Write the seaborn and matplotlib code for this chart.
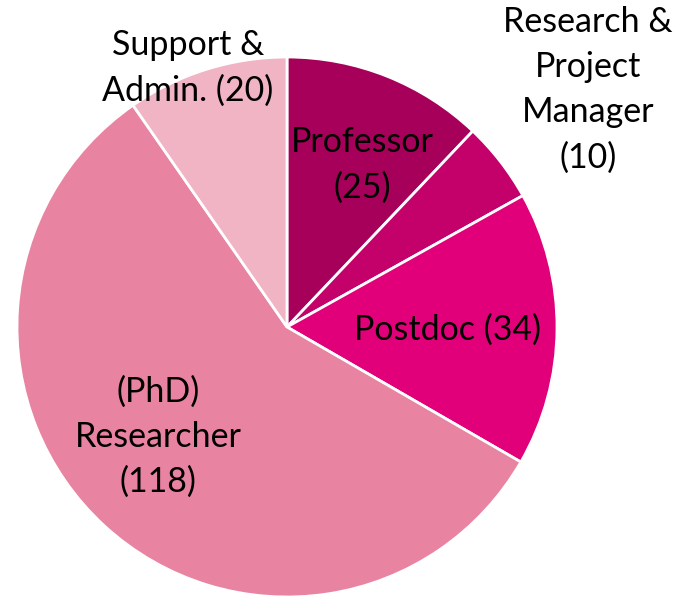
import matplotlib
matplotlib.use("Agg")
import matplotlib.pyplot as plt
import seaborn as sns

# staff categories, clockwise from 12 o'clock
categories = ["Professor", "Research &\nProject\nManager", "Postdoc", "(PhD)\nResearcher", "Support &\nAdmin."]
counts = [25, 10, 34, 118, 20]
label_texts = ["Professor\n(25)", "Research &\nProject\nManager\n(10)", "Postdoc (34)",
               "(PhD)\nResearcher\n(118)", "Support &\nAdmin. (20)"]
slice_colors = ["#A6005A", "#C4006B", "#E1007A", "#E883A1", "#F0B4C4"]

sns.set_theme(style="white")
plt.rcParams["font.family"] = ["Lato", "DejaVu Sans"]

W, H = 687, 597
cx, cy, r = 287, 327, 270
fig = plt.figure(figsize=(W / 100, H / 100), dpi=100)
ax = fig.add_axes([(cx - r) / W, (H - cy - r) / H, 2 * r / W, 2 * r / H])
ax.pie(counts, colors=sns.color_palette(slice_colors), startangle=90, counterclock=False,
       radius=1, wedgeprops=dict(edgecolor="white", linewidth=2))
ax.set_xlim(-1, 1); ax.set_ylim(-1, 1); ax.set_aspect("equal"); ax.axis("off")

# label anchors in pie-radius units
label_pos = [(0.278, 0.60), (1.115, 0.878), (0.596, -0.011), (-0.478, -0.407), (-0.367, 0.959)]
for text, (x, y) in zip(label_texts, label_pos):
    ax.text(x, y, text, ha="center", va="center", fontsize=24.5, linespacing=1.5,
            color="black", clip_on=False)

fig.savefig("out.png", dpi=100)
